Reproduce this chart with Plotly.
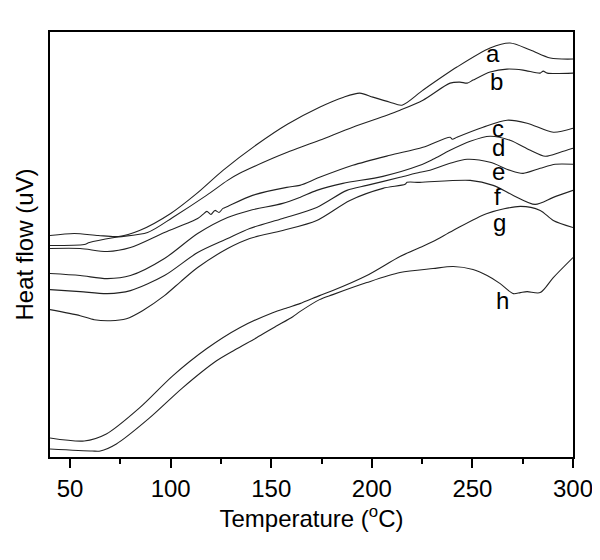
import plotly.graph_objects as go

# Temperature (°C) and heat flow (arbitrary units)
a_T = [40, 52, 64, 74, 84.5, 100, 113, 126, 143, 158, 174, 186, 194, 200.5, 209, 215, 225.4, 242.3, 258.8, 268.7, 278.8, 288.7, 300]
a_H = [22.1, 22.3, 22.1, 22.0, 22.6, 24.3, 26.3, 28.6, 31.2, 33.2, 34.9, 35.9, 36.3, 35.9, 35.4, 35.1, 36.6, 38.9, 40.8, 41.3, 40.6, 39.8, 39.7]

b_T = [40, 57, 59.6, 72, 88.5, 101, 117.8, 128.3, 134.3, 150.7, 158, 174, 190.5, 207.5, 214, 225.4, 238.9, 243.8, 247.4, 250.3, 258.8, 267.2, 275.2, 283.7, 285.2, 287.2, 300]
b_H = [21.1, 21.2, 21.4, 21.9, 22.4, 23.9, 26.1, 27.6, 28.3, 29.8, 30.4, 31.6, 32.9, 34.1, 34.6, 35.6, 37.3, 37.4, 37.3, 37.6, 38.4, 38.7, 38.6, 38.3, 38.5, 38.3, 38.3]

c_T = [40, 55, 68.5, 80, 96.9, 113.4, 116, 118, 120, 122, 124, 126, 128.3, 140.7, 157.7, 164.2, 174, 190.5, 209, 225.4, 238.9, 240, 242.3, 255.3, 267.2, 277.2, 290.2, 300]
c_H = [20.8, 20.8, 20.5, 20.9, 22.4, 23.8, 24.2, 24.5, 24.2, 24.6, 24.4, 24.8, 25.0, 26.1, 26.9, 27.1, 27.9, 29.1, 30.1, 30.9, 31.9, 31.7, 31.9, 32.9, 33.6, 33.3, 32.4, 32.8]

d_T = [40, 55, 68.5, 80, 96.9, 113.4, 128.3, 139.3, 155.7, 164.2, 172.6, 185.6, 205.5, 223.9, 230.4, 238.9, 248.9, 258.8, 268.7, 278.8, 286.2, 293.7, 300]
d_H = [18.3, 18.1, 17.8, 18.1, 19.8, 22.3, 23.9, 24.6, 25.3, 25.9, 26.6, 27.3, 28.0, 29.1, 29.7, 30.6, 31.5, 32.0, 31.6, 30.6, 30.0, 30.4, 30.8]

e_T = [40, 55, 68.5, 80, 96.9, 113.4, 128.3, 139.3, 155.7, 172.6, 187.6, 197.5, 214, 223.9, 228.9, 238.9, 247.4, 258.8, 268.7, 275.2, 283.7, 291.2, 300]
e_H = [16.7, 16.5, 16.3, 16.6, 18.1, 20.4, 21.8, 22.8, 23.8, 24.9, 26.6, 27.1, 27.9, 28.4, 28.6, 29.3, 29.7, 29.4, 28.6, 28.3, 28.8, 29.2, 29.2]

f_T = [40, 55, 62, 70, 78, 86, 96.9, 105, 113.4, 128.3, 139.3, 155.7, 172.6, 189.1, 205.5, 216.5, 217.5, 223.9, 248.9, 260.3, 270.3, 281.2, 290.2, 300]
f_H = [14.7, 14.1, 13.7, 13.6, 13.8, 14.6, 16.1, 17.5, 18.9, 20.8, 21.8, 22.6, 23.6, 25.6, 26.8, 27.2, 27.4, 27.4, 27.6, 27.1, 26.1, 25.2, 25.9, 26.6]

g_T = [40, 57, 68, 84.5, 101, 117.8, 134.3, 150.7, 158, 164.2, 174, 180.6, 197.5, 214, 223.9, 230.4, 240.4, 257.3, 273.8, 283.7, 290.2, 300]
g_H = [1.9, 1.6, 2.3, 4.9, 8.1, 10.8, 12.9, 14.4, 14.9, 15.3, 16.1, 16.6, 18.1, 20.0, 20.9, 21.5, 22.6, 24.3, 25.0, 24.6, 23.6, 22.9]

h_T = [40, 61, 65, 73, 89.5, 105.9, 122.8, 132, 142.7, 152, 160.7, 164.2, 174, 180.6, 197.5, 214, 230.4, 240.4, 250.3, 257.3, 263.8, 270.3, 273.8, 277.2, 283.7, 290.2, 300]
h_H = [0.8, 0.6, 0.6, 1.3, 3.9, 6.9, 9.6, 10.7, 11.9, 13.0, 14.0, 14.5, 15.7, 16.2, 17.4, 18.4, 18.8, 19.0, 18.7, 18.1, 17.3, 16.3, 16.4, 16.5, 16.4, 17.9, 19.9]

curve_names = ["a", "b", "c", "d", "e", "f", "g", "h"]
curve_T = [a_T, b_T, c_T, d_T, e_T, f_T, g_T, h_T]
curve_H = [a_H, b_H, c_H, d_H, e_H, f_H, g_H, h_H]

# label positions (T, heat flow)
label_T = [260.3, 261.8, 262.8, 262.8, 262.8, 262.3, 263.3, 264.8]
label_H = [40.3, 37.5, 32.8, 30.9, 28.5, 26.0, 23.4, 15.6]

x_ticks = [50, 100, 150, 200, 250, 300]
x_minor = [75, 125, 175, 225, 275]

FONT = "Liberation Sans, Arial, sans-serif"

fig = go.Figure()
for name, T, H in zip(curve_names, curve_T, curve_H):
    fig.add_trace(go.Scatter(
        x=T, y=H, mode="lines", name=name,
        line=dict(color="#222222", width=1.1, shape="spline", smoothing=0.8),
        showlegend=False, hoverinfo="skip"))

for name, lt, lh in zip(curve_names, label_T, label_H):
    fig.add_annotation(x=lt, y=lh, xref="x", yref="y", text=name, showarrow=False,
                       font=dict(size=24, color="black", family=FONT))

# the page body adds an 8px offset, so margins are shifted to compensate
fig.update_layout(
    width=600, height=560,
    margin=dict(l=42, r=35, t=24, b=111, autoexpand=False),
    paper_bgcolor="white", plot_bgcolor="white",
    font=dict(family=FONT, size=24, color="black"),
)
fig.update_xaxes(
    range=[40, 300], tickvals=x_ticks, ticks="outside", ticklen=9, tickwidth=1.5,
    tickcolor="black", showline=True, linecolor="black", linewidth=2, mirror=True,
    showgrid=False, zeroline=False, automargin=False,
    minor=dict(tickvals=x_minor, ticks="outside", ticklen=5, tickwidth=1.5, tickcolor="black"),
    tickfont=dict(size=24, family=FONT, color="black"),
    title=dict(text="Temperature (<sup>o</sup>C)", standoff=4, font=dict(size=24, family=FONT, color="black")),
)
fig.update_yaxes(
    range=[0, 42.4], showticklabels=False, ticks="", showline=True, linecolor="black",
    linewidth=2, mirror=True, showgrid=False, zeroline=False, automargin=False,
    title=dict(text="Heat flow (uV)", standoff=8, font=dict(size=24, family=FONT, color="black")),
)

fig.write_html("out.html")
